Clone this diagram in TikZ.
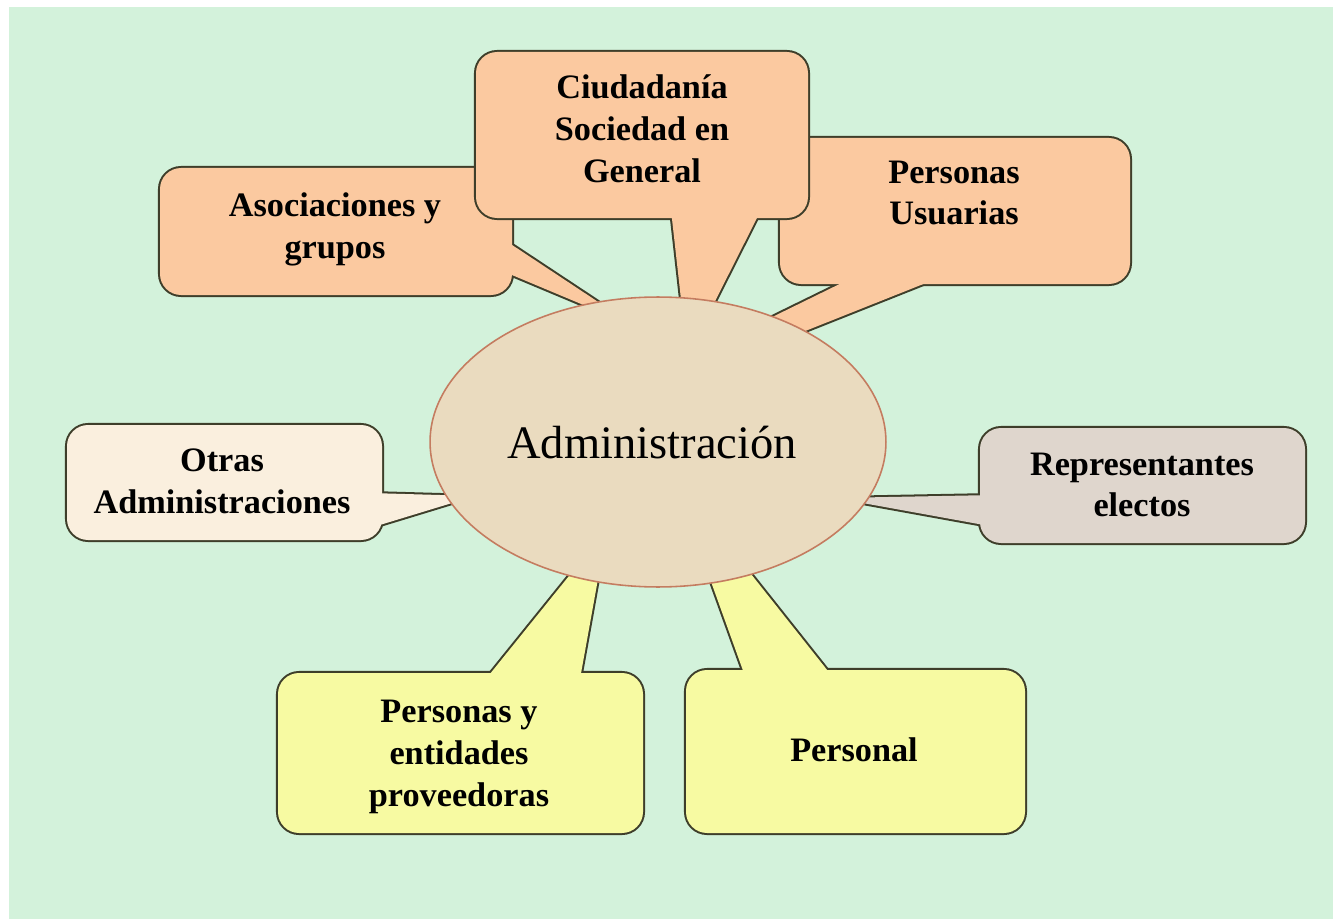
\documentclass[tikz,border=0pt]{standalone}
\usepackage{fontspec}
\setmainfont{Liberation Serif}
\usetikzlibrary{shapes.geometric}

\definecolor{bggreen}{RGB}{211,242,219}
\definecolor{peach}{RGB}{251,201,160}
\definecolor{paleyellow}{RGB}{247,250,162}
\definecolor{cream}{RGB}{250,239,222}
\definecolor{granite}{RGB}{223,214,205}
\definecolor{papyrus}{RGB}{234,219,191}
\definecolor{papyrusedge}{RGB}{196,124,96}
\definecolor{bubbleedge}{RGB}{62,62,42}

\tikzset{
  bubbleline/.style={draw=bubbleedge, line width=2.3pt, line join=round},
  boxshape/.style={rounded corners=12pt},
  label/.style={font=\fontsize{19.5}{23.8}\selectfont\bfseries, align=center, inner sep=0pt},
  centre/.style={ellipse, draw=papyrusedge, line width=0.9pt, fill=papyrus,
    minimum width=9.12cm, minimum height=5.8cm, inner sep=0pt,
    font=\fontsize{26.5}{30}\selectfont}
}

% A speech bubble: stroke box and tail with a double-width line,
% then fill both so only the outer half of the outline is left.
\newcommand\bubble[3]{%
  \draw[bubbleline, boxshape] #2;
  \draw[bubbleline] #3;
  \fill[#1, boxshape] #2;
  \fill[#1] #3;
}

\begin{document}
\begin{tikzpicture}[x=0.02cm, y=-0.02cm]
  \useasboundingbox (0,0) rectangle (1333,919);
  \fill[white] (0,0) rectangle (1333,919);
  \fill[bggreen] (9,7) rectangle (1333,919);

  % upper bubbles
  \bubble{peach}{(160,168) rectangle (512,295)}
    {(500,237) -- (636,327) -- (500,270) -- cycle}
  \bubble{peach}{(780,138) rectangle (1130,284)}
    {(858,275) -- (946,275) -- (760,349) -- (760,323) -- cycle}
  \bubble{peach}{(476,52) rectangle (808,218)}
    {(671,210) -- (761,210) -- (698,335) -- (685,335) -- cycle}

  % side bubbles
  \bubble{cream}{(67,425) rectangle (382,540)}
    {(370,493) -- (475,496) -- (370,528) -- cycle}
  \bubble{granite}{(980,428) rectangle (1305,543)}
    {(995,495) -- (835,498) -- (995,527) -- cycle}

  % lower bubbles
  \bubble{paleyellow}{(278,673) rectangle (643,833)}
    {(477,690) -- (578,690) -- (605,540) -- (598,540) -- cycle}
  \bubble{paleyellow}{(686,670) rectangle (1025,833)}
    {(750,690) -- (843,690) -- (724,540) -- (696,540) -- cycle}

  % central ellipse
  \node[centre] (adm) at (658,442) {};
  \node[font=\fontsize{26.5}{30}\selectfont, inner sep=0pt] (admtext) at (652,443) {Administración};

  % bubble texts
  \node[label] (ciud) at (642,129) {Ciudadanía\\Sociedad en\\General};
  \node[label] (asoc) at (335,229) {Asociaciones y\\grupos};
  \node[label] (usu)  at (954,193) {Personas\\Usuarias};
  \node[label] (otras) at (222,481) {Otras\\Administraciones};
  \node[label] (rep)  at (1142,485) {Representantes\\electos};
  \node[label] (prov) at (459,757) {Personas y\\entidades\\proveedoras};
  \node[label] (pers) at (854,750) {Personal};
\end{tikzpicture}
\end{document}
